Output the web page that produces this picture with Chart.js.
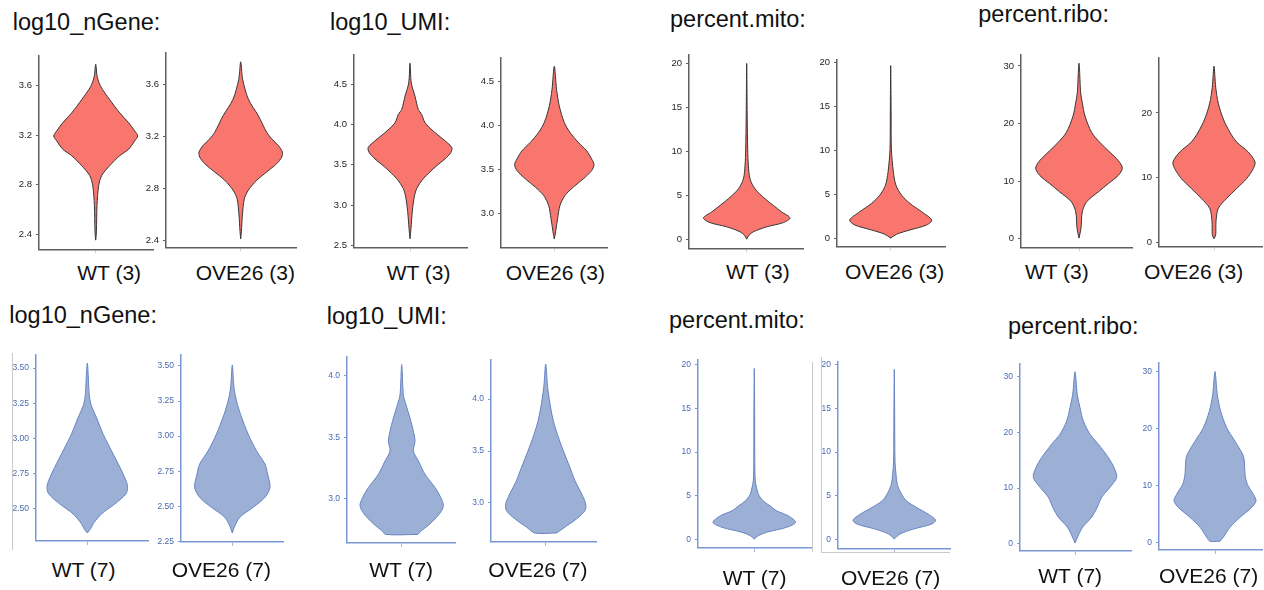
<!DOCTYPE html>
<html lang="en">
<head>
<meta charset="UTF-8" />
<title>QC violins</title>
<script src="https://cdn.jsdelivr.net/npm/chart.js"></script>
<style>
  html, body { margin: 0; padding: 0; background: #fff; overflow: hidden; width: 1264px; height: 590px; }
  #fig { position: relative; width: 1264px; height: 590px; font-family: "Liberation Sans", Arial, sans-serif; }
  canvas { position: absolute; }
  .t { position: absolute; white-space: nowrap; color: #111; line-height: 1; }
  .ln { position: absolute; background: #c9c9c9; }
</style>
</head>
<body>
<div id="fig"></div>
<script>
// ---- labels ----
const metrics = ['log10_nGene:', 'log10_UMI:', 'percent.mito:', 'percent.ribo:'];
const groupsTop = ['WT (3)', 'OVE26 (3)'];
const groupsBottom = ['WT (7)', 'OVE26 (7)'];

// ---- tick labels ----
const ticksGeneTop = [2.4, 2.8, 3.2, 3.6];
const ticksUmiWT3 = [2.5, 3.0, 3.5, 4.0, 4.5];
const ticksUmiOVE3 = [3.0, 3.5, 4.0, 4.5];
const ticksMito = [0, 5, 10, 15, 20];
const ticksRiboWT3 = [0, 10, 20, 30];
const ticksRiboOVE3 = [0, 10, 20];
const ticksGeneWT7 = [2.50, 2.75, 3.00, 3.25, 3.50];
const ticksGeneOVE7 = [2.25, 2.50, 2.75, 3.00, 3.25, 3.50];
const ticksUmi7 = [3.0, 3.5, 4.0];
const ticksRibo7 = [0, 10, 20, 30];

// ---- violin outlines: value (y) and half width / density (w), bottom to top ----
const geneWT3_y = [2.354, 2.421, 2.635, 2.795, 2.875, 2.955, 3.035, 3.088, 3.155, 3.195, 3.235, 3.301, 3.381, 3.488, 3.594, 3.674, 3.774];
const geneWT3_w = [0, 0.7, 1.3, 3, 6, 14, 24, 33, 39, 42, 39, 33, 24, 14, 5, 1.5, 0];
const geneOVE3_y = [2.41, 2.467, 2.594, 2.721, 2.785, 2.861, 2.925, 2.989, 3.04, 3.078, 3.128, 3.18, 3.23, 3.357, 3.485, 3.637, 3.773];
const geneOVE3_w = [0, 0.7, 1.7, 3.7, 7.7, 16, 26, 36, 41, 41.7, 37.7, 31, 26, 17.7, 7.7, 2, 0];
const umiWT3_y = [2.582, 2.713, 2.918, 3.082, 3.205, 3.328, 3.471, 3.574, 3.656, 3.718, 3.82, 3.922, 4.025, 4.127, 4.189, 4.352, 4.517, 4.763];
const umiWT3_w = [0, 1, 2.3, 4, 6.7, 13.3, 25, 35, 41, 41.7, 33, 23, 15, 11.7, 8.3, 5, 1.3, 0];
const umiOVE3_y = [2.704, 2.787, 2.938, 3.088, 3.201, 3.296, 3.39, 3.484, 3.552, 3.617, 3.71, 3.805, 3.919, 4.032, 4.219, 4.408, 4.672];
const umiOVE3_w = [0, 1.3, 3.3, 5.7, 10.7, 19, 29, 37.3, 39.7, 37.3, 32.3, 24, 15.7, 10, 5, 2.3, 0];
const mitoWT3_y = [0.03, 0.48, 0.87, 1.43, 1.91, 2.44, 3.12, 3.86, 4.62, 5.74, 6.87, 8.37, 10.25, 14.0, 20.0];
const mitoWT3_w = [0, 2.3, 6.7, 20, 36.7, 43.3, 35, 26.7, 18.3, 8.3, 3.3, 1.7, 1, 0.5, 0];
const mitoOVE3_y = [0, 0.45, 0.93, 1.5, 2.06, 3.0, 3.94, 4.88, 6.0, 7.5, 10.1, 14.5, 19.63];
const mitoOVE3_w = [0, 6, 19.3, 36, 41, 31, 19.3, 11, 5.3, 2.7, 0.7, 0.4, 0];
const riboWT3_y = [0.12, 1.84, 4.7, 6.43, 8.14, 9.57, 11.0, 12.27, 13.57, 15.0, 16.7, 18.45, 21.3, 23.6, 25.3, 30.48];
const riboWT3_w = [0, 2, 3.3, 7.7, 19.3, 29.3, 39.3, 43.3, 39.3, 31, 21, 12.7, 6, 3.3, 1.7, 0];
const riboOVE3_y = [0.55, 1.17, 3.22, 5.26, 6.8, 8.33, 9.87, 11.4, 12.42, 13.96, 15.5, 17.0, 19.06, 21.5, 24.0, 27.24];
const riboOVE3_w = [0, 1.7, 2, 4.3, 12.7, 22.7, 32.7, 39.3, 41, 34.3, 22.7, 16, 9.3, 4.3, 1.7, 0];

const geneWT7_y = [2.327, 2.357, 2.393, 2.463, 2.534, 2.605, 2.652, 2.699, 2.793, 2.91, 3.028, 3.146, 3.24, 3.311, 3.535];
const geneWT7_w = [0, 3.3, 6, 14.3, 27.7, 38.7, 40.3, 38.7, 32.7, 24.3, 16, 9.3, 3.7, 2, 0];
const geneOVE7_y = [2.309, 2.352, 2.423, 2.493, 2.564, 2.635, 2.729, 2.8, 2.894, 3.012, 3.154, 3.248, 3.342, 3.507];
const geneOVE7_w = [0, 2, 7.7, 21, 32.7, 37.7, 35.3, 32.7, 24.3, 16, 8.3, 4.3, 1.7, 0];
const umiWT7_y = [2.707, 2.739, 2.794, 2.875, 2.942, 3.01, 3.09, 3.198, 3.306, 3.387, 3.468, 3.549, 3.657, 3.765, 3.845, 4.094];
const umiWT7_w = [16, 20, 28.3, 37.7, 41.7, 39, 33.3, 23.3, 16.7, 11.7, 13.3, 11.7, 8.3, 4.3, 1.7, 0];
const umiOVE7_y = [2.711, 2.768, 2.848, 2.927, 2.991, 3.086, 3.213, 3.341, 3.5, 3.66, 3.787, 3.914, 4.106, 4.338];
const umiOVE7_w = [11, 19.3, 31, 39.3, 40, 36, 29.3, 24.3, 17.7, 11.7, 7.7, 5, 2, 0];
const mitoWT7_y = [0.03, 0.41, 0.8, 1.37, 1.94, 2.69, 3.26, 3.83, 4.4, 5.17, 5.93, 6.68, 8.96, 14, 19.6];
const mitoWT7_w = [0, 4, 12.3, 32.3, 41.3, 34, 22.3, 15.7, 9, 4, 2.3, 1, 0.5, 0.4, 0];
const mitoOVE7_y = [0.08, 0.65, 1.21, 1.78, 2.23, 2.91, 3.67, 4.42, 5.18, 6.31, 7.44, 8.95, 14, 19.45];
const mitoOVE7_w = [0, 5.7, 19, 37.3, 41.3, 34, 22.3, 12.3, 7.3, 3, 1.7, 0.7, 0.4, 0];
const riboWT7_y = [0.12, 1.49, 2.99, 4.77, 6.56, 8.35, 10.14, 11.93, 13.7, 15.5, 17.89, 19.68, 22.06, 24.45, 26.8, 30.9];
const riboWT7_w = [0, 3.3, 7.7, 16.7, 22.3, 26.7, 35, 41.7, 39, 33.3, 23.3, 15, 8.3, 5, 2.3, 0];
const riboOVE7_y = [0.17, 0.87, 2.62, 4.37, 6.12, 7.27, 8.44, 10.19, 11.94, 14.27, 15.44, 17.76, 20.1, 23.0, 25.9, 30.0];
const riboOVE7_w = [5, 8.3, 15, 25, 36.7, 41, 38.3, 32.3, 30, 29.3, 27.7, 20, 11.7, 5.7, 2.3, 0];

// ---- styles per row ----
const styleTop = { fill: '#F8766D', line: '#363636', axis: '#5e5e5e', label: '#1e1e1e', xtick: '#d0d0d0', font: 9.5 };
const styleBottom = { fill: '#9cafd5', line: '#6684c2', axis: '#7b97d4', label: '#4a6ab0', xtick: '#a8b6d6', font: 8.5 };

// ---- panel placement (axis left, top, bottom, right, violin centre) ----
const panels = [
  { ax: 39, at: 56, ab: 251, ar: 153, cx: 95.7, min: 2.28, max: 3.84, ticks: ticksGeneTop, dec: 1, y: geneWT3_y, w: geneWT3_w, s: styleTop },
  { ax: 166, at: 53, ab: 249, ar: 296, cx: 240.7, min: 2.345, max: 3.841, ticks: ticksGeneTop, dec: 1, y: geneOVE3_y, w: geneOVE3_w, s: styleTop },
  { ax: 354, at: 55, ab: 249, ar: 467, cx: 410, min: 2.476, max: 4.865, ticks: ticksUmiWT3, dec: 1, y: umiWT3_y, w: umiWT3_w, s: styleTop },
  { ax: 501, at: 58, ab: 249, ar: 607, cx: 554.3, min: 2.61, max: 4.767, ticks: ticksUmiOVE3, dec: 1, y: umiOVE3_y, w: umiOVE3_w, s: styleTop },
  { ax: 689, at: 55, ab: 250, ar: 803, cx: 746.7, min: -1.01, max: 20.95, ticks: ticksMito, dec: 0, y: mitoWT3_y, w: mitoWT3_w, s: styleTop },
  { ax: 837, at: 60, ab: 248, ar: 945, cx: 890.7, min: -0.93, max: 20.27, ticks: ticksMito, dec: 0, y: mitoOVE3_y, w: mitoOVE3_w, s: styleTop },
  { ax: 1021, at: 55, ab: 249, ar: 1132, cx: 1079, min: -1.48, max: 31.9, ticks: ticksRiboWT3, dec: 0, y: riboWT3_y, w: riboWT3_w, s: styleTop },
  { ax: 1159, at: 58, ab: 248, ar: 1262, cx: 1214, min: -0.61, max: 28.5, ticks: ticksRiboOVE3, dec: 0, y: riboOVE3_y, w: riboOVE3_w, s: styleTop },

  { ax: 36, at: 355, ab: 542, ar: 148, cx: 87.3, min: 2.27, max: 3.593, ticks: ticksGeneWT7, dec: 2, y: geneWT7_y, w: geneWT7_w, s: styleBottom },
  { ax: 181, at: 355, ab: 543, ar: 283, cx: 232.3, min: 2.246, max: 3.578, ticks: ticksGeneOVE7, dec: 2, y: geneOVE7_y, w: geneOVE7_w, s: styleBottom },
  { ax: 347, at: 357, ab: 544, ar: 455, cx: 401.7, min: 2.638, max: 4.155, ticks: ticksUmi7, dec: 1, y: umiWT7_y, w: umiWT7_w, s: styleBottom },
  { ax: 491, at: 360, ab: 543, ar: 596, cx: 545.7, min: 2.625, max: 4.376, ticks: ticksUmi7, dec: 1, y: umiOVE7_y, w: umiOVE7_w, s: styleBottom },
  { ax: 698, at: 360, ab: 549, ar: 812, cx: 754.3, min: -0.99, max: 20.56, ticks: ticksMito, dec: 0, y: mitoWT7_y, w: mitoWT7_w, s: styleBottom },
  { ax: 838, at: 362, ab: 550, ar: 950, cx: 894.3, min: -1.05, max: 20.27, ticks: ticksMito, dec: 0, y: mitoOVE7_y, w: mitoOVE7_w, s: styleBottom },
  { ax: 1020, at: 364, ab: 552, ar: 1131, cx: 1075, min: -1.3, max: 32.3, ticks: ticksRibo7, dec: 0, y: riboWT7_y, w: riboWT7_w, s: styleBottom },
  { ax: 1159, at: 363, ab: 551, ar: 1262, cx: 1215, min: -1.35, max: 31.5, ticks: ticksRibo7, dec: 0, y: riboOVE7_y, w: riboOVE7_w, s: styleBottom }
];

// title / group label positions: [left, baseline]
const titlePos = [[12.7, 31], [330, 31], [670, 28.3], [978.3, 23], [9.3, 324], [326.7, 325], [669, 329], [1008, 334.5]];
const groupPos = [
  [77.3, 280], [195.7, 280], [386.7, 280], [505.7, 280], [726, 278.3], [845, 278.3], [1025, 278.3], [1144, 278.3],
  [51.7, 576.7], [171.7, 576.7], [369.3, 576.7], [488.3, 576.7], [722.7, 584.3], [841, 584.3], [1038.3, 582.3], [1159, 582.3]
];

const fig = document.getElementById('fig');
const LW = 34, PT = 10, PR = 2, PB = 4, XT = 4;

// closed outline: right side upwards, left side (mirrored) downwards
function outline(y, w) {
    const pts = [];
    for (let i = 0; i < y.length; i++) pts.push({ x: w[i], y: y[i] });
    for (let i = y.length - 1; i >= 0; i--) if (w[i] > 0) pts.push({ x: -w[i], y: y[i] });
    pts.push(pts[0]);
    return pts;
}

panels.forEach((p) => {
    const ax = Math.round(p.ax), at = Math.round(p.at), ab = Math.round(p.ab), ar = Math.round(p.ar);
    const W = ar - ax + LW + PR, H = ab - at + PT + XT + PB;
    const cv = document.createElement('canvas');
    cv.width = W; cv.height = H;
    cv.style.left = (ax - LW) + 'px'; cv.style.top = (at - PT) + 'px';
    cv.style.width = W + 'px'; cv.style.height = H + 'px';
    fig.appendChild(cv);

    new Chart(cv, {
        type: 'scatter',
        data: {
            datasets: [{
                data: outline(p.y, p.w),
                showLine: true,
                fill: 'shape',
                backgroundColor: p.s.fill,
                borderColor: p.s.line,
                borderWidth: 1,
                pointRadius: 0,
                tension: 0.3
            }]
        },
        options: {
            responsive: false,
            animation: false,
            events: [],
            layout: { padding: { left: 0, top: PT, right: PR, bottom: PB } },
            plugins: { legend: { display: false }, tooltip: { enabled: false } },
            scales: {
                x: {
                    type: 'linear',
                    min: ax - p.cx, max: ar - p.cx,
                    afterBuildTicks: (s) => { s.ticks = [{ value: 0 }]; },
                    afterFit: (s) => { s.height = XT; },
                    ticks: { display: false },
                    grid: { drawOnChartArea: false, tickLength: XT, color: p.s.xtick },
                    border: { color: p.s.axis, width: 1.5 }
                },
                y: {
                    min: p.min, max: p.max,
                    afterBuildTicks: (s) => { s.ticks = p.ticks.map((v) => ({ value: v })); },
                    afterFit: (s) => { s.width = LW; },
                    ticks: {
                        autoSkip: false,
                        padding: 4,
                        color: p.s.label,
                        font: { family: '"Liberation Sans", Arial, sans-serif', size: p.s.font },
                        callback: (v) => Number(v).toFixed(p.dec)
                    },
                    grid: { drawOnChartArea: false, tickLength: 3, color: p.s.axis },
                    border: { color: p.s.axis, width: 1.5 }
                }
            }
        }
    });
});

function text(str, left, base, size) {
    const d = document.createElement('div');
    d.className = 't';
    d.textContent = str;
    d.style.fontSize = size + 'px';
    d.style.left = left + 'px';
    d.style.top = (base - 0.8465 * size) + 'px';
    fig.appendChild(d);
}

titlePos.forEach((pos, i) => text(metrics[i % 4], pos[0], pos[1], 23.5));
groupPos.forEach((pos, i) => {
    const names = i < 8 ? groupsTop : groupsBottom;
    text(names[i % 2], pos[0], pos[1], 21);
});

// faint frame lines left over in the lower panels
function vline(x, y1, y2) {
    const d = document.createElement('div');
    d.className = 'ln';
    d.style.left = x + 'px'; d.style.top = y1 + 'px';
    d.style.width = '1px'; d.style.height = (y2 - y1) + 'px';
    fig.appendChild(d);
}
function hline(x1, x2, y) {
    const d = document.createElement('div');
    d.className = 'ln';
    d.style.left = x1 + 'px'; d.style.top = y + 'px';
    d.style.width = (x2 - x1) + 'px'; d.style.height = '1px';
    fig.appendChild(d);
}
vline(12, 353, 550);
vline(812, 362, 552);
vline(821, 357, 552);
hline(821, 950, 552);
</script>
</body>
</html>
